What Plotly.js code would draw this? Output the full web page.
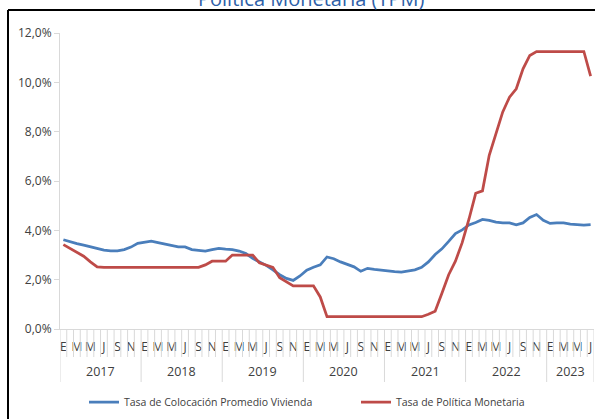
<!DOCTYPE html>
<html><head><meta charset="utf-8">
<script src="https://cdn.plot.ly/plotly-3.0.1.min.js"></script>
<style>html,body{margin:0;padding:0;background:#fff;} #chart{width:595px;height:419px;}</style>
</head><body><div id="chart"></div>
<script>
// ---- data ----
const years = ['2017', '2018', '2019', '2020', '2021', '2022', '2023'];
const monthLetters = ['E', 'F', 'M', 'A', 'M', 'J', 'J', 'A', 'S', 'O', 'N', 'D'];
const seriesNames = ['Tasa de Colocación Promedio Vivienda', 'Tasa de Política Monetaria'];
const titleText = 'Política Monetaria (TPM)';
const yTicks = [0, 2, 4, 6, 8, 10, 12];
const yTickText = ['0,0%', '2,0%', '4,0%', '6,0%', '8,0%', '10,0%', '12,0%'];
// monthly values in %, Jan 2017 .. Jul 2023
const colocacion = [
  3.62, 3.53, 3.46, 3.40, 3.33, 3.26, 3.20, 3.17, 3.17, 3.22, 3.32, 3.47,
  3.52, 3.56, 3.50, 3.44, 3.40, 3.33, 3.33, 3.22, 3.19, 3.16, 3.22, 3.27,
  3.24, 3.22, 3.16, 3.06, 2.86, 2.72, 2.58, 2.40, 2.20, 2.05, 1.97, 2.15,
  2.38, 2.50, 2.60, 2.92, 2.85, 2.72, 2.62, 2.52, 2.34, 2.46, 2.42, 2.38,
  2.34, 2.33, 2.31, 2.36, 2.40, 2.50, 2.72, 3.02, 3.25, 3.55, 3.87, 4.02,
  4.22, 4.32, 4.44, 4.40, 4.33, 4.30, 4.30, 4.22, 4.30, 4.52, 4.64, 4.41,
  4.28, 4.30, 4.30, 4.25, 4.22, 4.21, 4.23
];
const tpm = [
  3.42, 3.27, 3.13, 2.95, 2.72, 2.52, 2.50, 2.50, 2.50, 2.50, 2.50, 2.50,
  2.50, 2.50, 2.50, 2.50, 2.50, 2.50, 2.50, 2.50, 2.50, 2.60, 2.75, 2.75,
  2.75, 3.00, 3.00, 3.00, 3.00, 2.68, 2.58, 2.50, 2.08, 1.92, 1.75, 1.75,
  1.75, 1.75, 1.30, 0.50, 0.50, 0.50, 0.50, 0.50, 0.50, 0.50, 0.50, 0.50,
  0.50, 0.50, 0.50, 0.50, 0.50, 0.50, 0.60, 0.72, 1.45, 2.20, 2.75, 3.50,
  4.45, 5.50, 5.60, 7.04, 7.92, 8.80, 9.40, 9.74, 10.55, 11.09, 11.25, 11.25,
  11.25, 11.25, 11.25, 11.25, 11.25, 11.25, 10.25
];

// ---- build ----
const FONT = 'Open Sans, Noto Sans, sans-serif';
const n = colocacion.length;
const x = colocacion.map((_, i) => i);
const tickvals = x.filter(i => i % 2 === 0);
const ticktext = tickvals.map(i => monthLetters[i % 12]);

const plotTop = 33, plotBottom = 329, plotH = plotBottom - plotTop;
const plotLeft = 60, plotW = 534;
const py = px => (plotBottom - px) / plotH;     // pixel y -> paper y
const pxp = px => (px - plotLeft) / plotW;      // pixel x -> paper x

const shapes = [];
for (let i = 0; i <= n; i++) {
  const isYear = (i % 12 === 0) || i === n;
  shapes.push({type: 'line', xref: 'x', yref: 'paper', x0: i - 0.5, x1: i - 0.5,
    y0: 0, y1: isYear ? py(382) : py(357), line: {color: '#d9d9d9', width: 1}});
}
// outer frame
shapes.push({type: 'line', xref: 'paper', yref: 'paper', x0: pxp(8), x1: pxp(8), y0: py(10), y1: py(460), line: {color: '#000', width: 2}});
shapes.push({type: 'line', xref: 'paper', yref: 'paper', x0: pxp(8), x1: pxp(640), y0: py(10), y1: py(10), line: {color: '#000', width: 2}});

const annotations = years.map((yr, k) => {
  const s = 12 * k, e = Math.min(12 * k + 11, n - 1);
  return {text: yr, xref: 'x', yref: 'paper', x: (s + e) / 2, y: py(371), showarrow: false,
    xanchor: 'center', yanchor: 'middle', font: {family: FONT, size: 12.5, color: '#404040'}};
});

const traces = [
  {x: x, y: colocacion, name: seriesNames[0], type: 'scatter', mode: 'lines',
   line: {color: '#4A7EBB', width: 2.75}, legend: 'legend'},
  {x: x, y: tpm, name: seriesNames[1], type: 'scatter', mode: 'lines',
   line: {color: '#BE4B48', width: 2.75}, legend: 'legend2'}
];

const layout = {
  width: 595, height: 419,
  margin: {l: plotLeft, r: 595 - plotLeft - plotW, t: plotTop, b: 419 - plotBottom, pad: 0},
  paper_bgcolor: '#fff', plot_bgcolor: '#fff',
  separators: ',.',
  font: {family: FONT, color: '#404040'},
  title: {text: titleText, font: {family: FONT, size: 20, color: '#2E5FA8'},
    xref: 'container', yref: 'container', x: 0.523, xanchor: 'center', y: 0.985, yanchor: 'bottom'},
  xaxis: {range: [-0.5, n - 0.5], tickmode: 'array', tickvals: tickvals, ticktext: ticktext,
    ticks: '', showgrid: false, zeroline: false, showline: true, linecolor: '#d9d9d9', linewidth: 1,
    tickfont: {family: FONT, size: 12, color: '#404040'}, ticklabelstandoff: 7, fixedrange: true},
  yaxis: {range: [0, 12], tickmode: 'array', tickvals: yTicks, ticktext: yTickText,
    ticks: 'outside', ticklen: 5, tickcolor: '#d9d9d9',
    showgrid: false, zeroline: false, showline: true, linecolor: '#d9d9d9', linewidth: 1,
    tickfont: {family: FONT, size: 12, color: '#404040'}, fixedrange: true},
  showlegend: true,
  legend: {orientation: 'h', x: pxp(84), xanchor: 'left', y: py(402), yanchor: 'middle',
    font: {family: FONT, size: 10.5, color: '#404040'}, bgcolor: 'rgba(0,0,0,0)'},
  legend2: {orientation: 'h', x: pxp(356), xanchor: 'left', y: py(402), yanchor: 'middle',
    font: {family: FONT, size: 10.5, color: '#404040'}, bgcolor: 'rgba(0,0,0,0)'},
  shapes: shapes,
  annotations: annotations
};

Plotly.newPlot('chart', traces, layout, {displayModeBar: false, staticPlot: true});
</script>
</body></html>
